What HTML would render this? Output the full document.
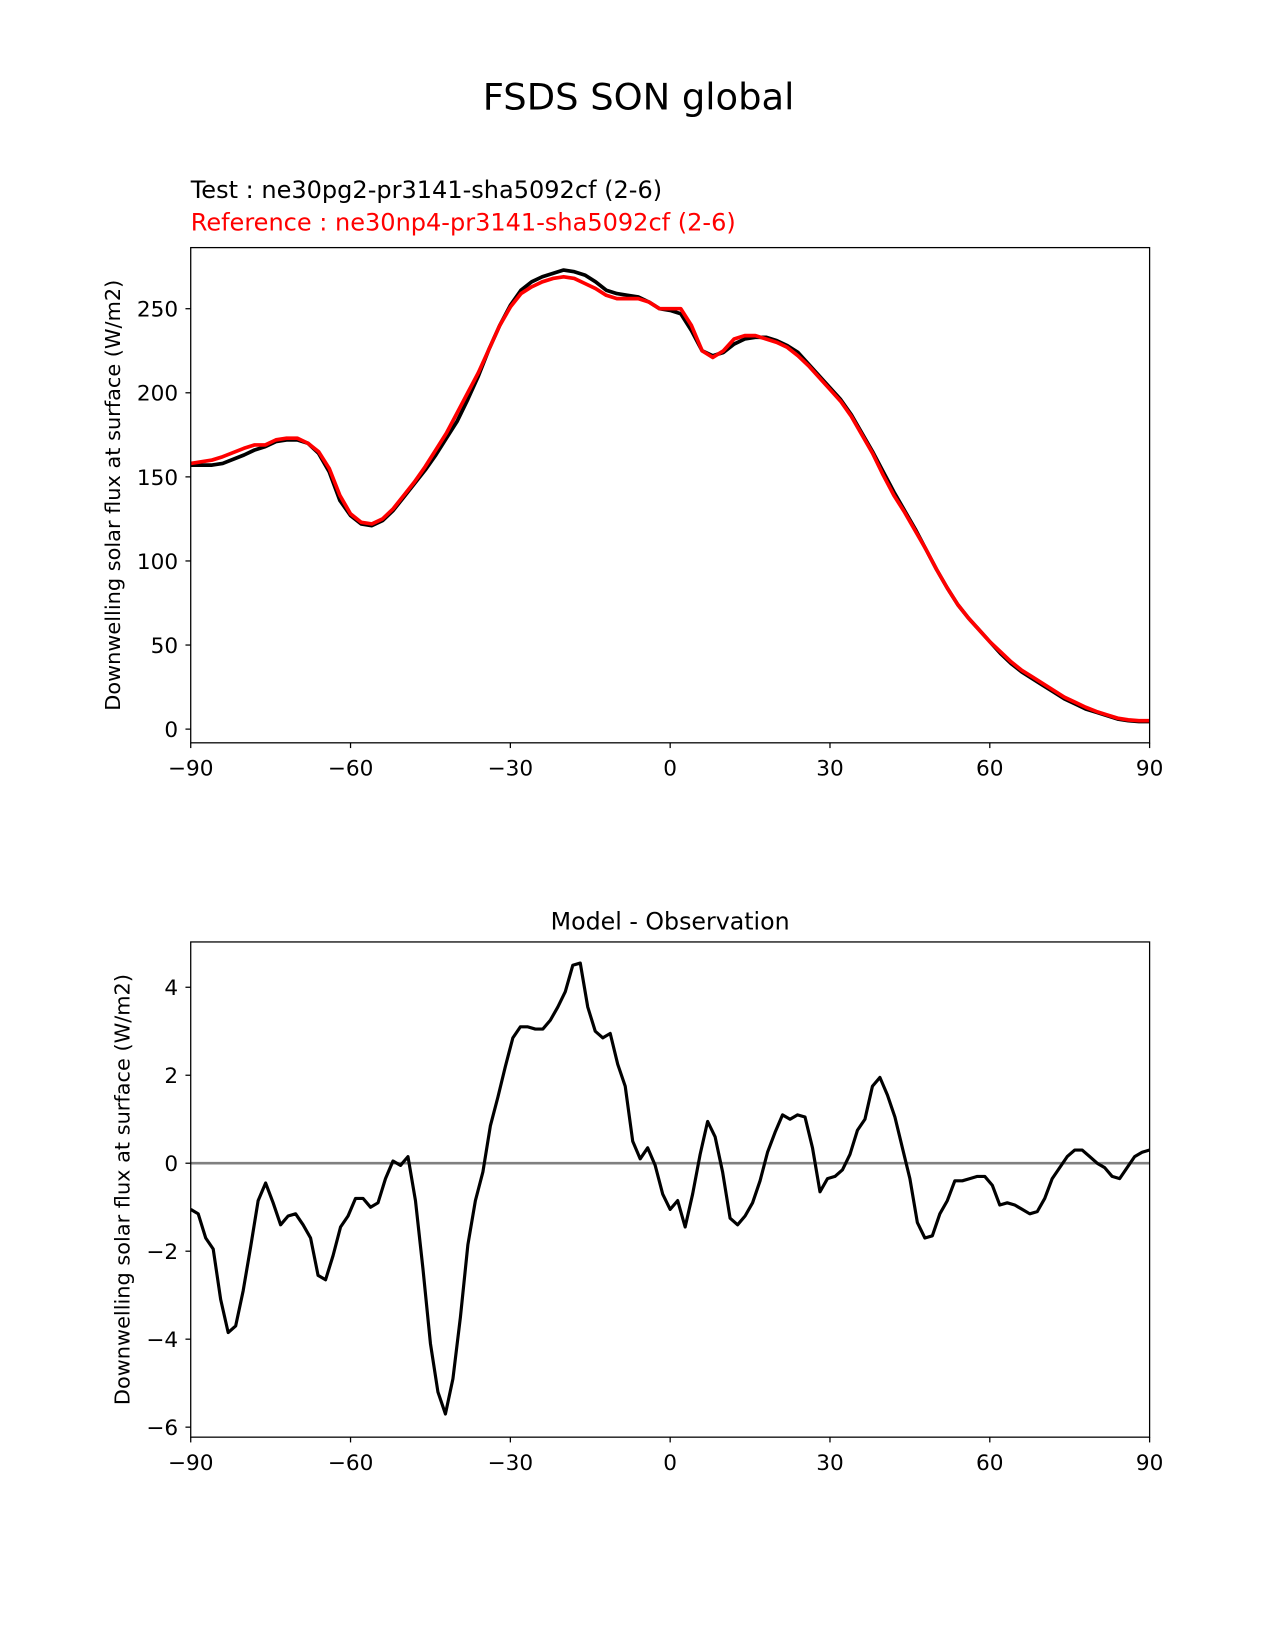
<!DOCTYPE html>
<html><head><meta charset="utf-8"><style>
body{margin:0;background:#fff;}
svg{display:block;}
svg text{font-family:"DejaVu Sans","Liberation Sans",sans-serif;}
</style></head><body>
<svg id="fig" width="1275" height="1650" viewBox="0 0 1210 1566" preserveAspectRatio="none" xmlns="http://www.w3.org/2000/svg">
<rect width="1210" height="1566" fill="#fff"/>
<text x="606" y="104" font-size="35" text-anchor="middle">FSDS SON global</text>
<text x="181" y="188" font-size="22.8">Test : ne30pg2-pr3141-sha5092cf (2-6)</text>
<text x="181" y="219" font-size="22.8" fill="#f00">Reference : ne30np4-pr3141-sha5092cf (2-6)</text>
<text x="636" y="882" font-size="22.5" text-anchor="middle">Model - Observation</text>
<g id="top"></g>
<g id="bot"></g>
</svg>
<script>
const topLats = [-90,-86,-84,-80,-78,-76,-74,-72,-70,-68,-66,-64,-62,-60,-58,-56,-54,-52,-50,-48,-46,-44,-42,-40,-38,-36,-34,-32,-30,-28,-26,-24,-22,-20,-18,-16,-14,-12,-10,-8,-6,-4,-2,0,2,4,6,8,10,12,14,16,18,20,22,24,26,28,30,32,34,36,38,40,42,44,46,48,50,52,54,56,58,60,62,64,66,68,70,72,74,76,78,80,82,84,86,88,90];
const testVals = [157,157,158,163,166,168,171,172,172,170,164,153,136,127,122,121,124,130,138,146,154,163,173,183,196,210,226,240,252,261,266,269,271,273,272,270,266,261,259,258,257,254,250,249,247,237,225,222,224,229,232,233,233,231,228,224,217,210,203,196,187,176,165,153,141,130,119,107,95,84,74,66,59,52,45,39,34,30,26,22,18,15,12,10,8,6,5,4.5,4.5];
const refVals = [158,160,162,167,169,169,172,173,173,170,165,155,139,128,123,122,125,131,139,147,156,166,176,188,200,212,226,240,251,259,263,266,268,269,268,265,262,258,256,256,256,254,250,250,250,240,225,221,225,232,234,234,232,230,227,222,216,209,202,195,186,175,164,151,139,129,118,107,95,84,74,66,59,52,46,40,35,31,27,23,19,16,13,10.5,8.5,6.5,5.5,5,5];
const topYTicks = [0,50,100,150,200,250];
const xTicks = [-90,-60,-30,0,30,60,90];
const diffVals = [-1.05,-1.15,-1.7,-1.95,-3.1,-3.85,-3.7,-2.9,-1.9,-0.85,-0.45,-0.9,-1.4,-1.2,-1.15,-1.4,-1.7,-2.55,-2.65,-2.1,-1.45,-1.2,-0.8,-0.8,-1.0,-0.9,-0.35,0.05,-0.05,0.15,-0.85,-2.4,-4.1,-5.2,-5.7,-4.9,-3.5,-1.85,-0.85,-0.2,0.85,1.5,2.2,2.85,3.1,3.1,3.05,3.05,3.25,3.55,3.9,4.5,4.55,3.55,3.0,2.85,2.95,2.25,1.75,0.5,0.1,0.35,-0.05,-0.7,-1.05,-0.85,-1.45,-0.7,0.2,0.95,0.6,-0.2,-1.25,-1.4,-1.2,-0.9,-0.4,0.25,0.7,1.1,1.0,1.1,1.05,0.35,-0.65,-0.35,-0.3,-0.15,0.2,0.75,1.0,1.75,1.95,1.55,1.05,0.35,-0.35,-1.35,-1.7,-1.65,-1.15,-0.85,-0.4,-0.4,-0.35,-0.3,-0.3,-0.5,-0.95,-0.9,-0.95,-1.05,-1.15,-1.1,-0.8,-0.35,-0.1,0.15,0.3,0.3,0.15,0.0,-0.1,-0.3,-0.35,-0.1,0.15,0.25,0.3];
const botYTicks = [-6,-4,-2,0,2,4];

const NS='http://www.w3.org/2000/svg';
function mk(parent,tag,attrs){const e=document.createElementNS(NS,tag);for(const k in attrs)e.setAttribute(k,attrs[k]);parent.appendChild(e);return e;}
const X0=181,X1=1091;
const xs=d=>X0+(d+90)*(X1-X0)/180;

function axes(g,top,bot,ys,yTicks,prefix){
  for(const t of xTicks){
    const l=mk(g,'line',{x1:xs(t),x2:xs(t),y1:bot,y2:bot+5,stroke:'#000','stroke-width':1.2});
    
    
    const tx=mk(g,'text',{x:xs(t),y:bot+31,'font-size':20.5,'text-anchor':'middle'});
    tx.textContent=t<0?'\u2212'+(-t):''+t;
    
    
  }
  for(const t of yTicks){
    const l=mk(g,'line',{x1:X0-5,x2:X0,y1:ys(t),y2:ys(t),stroke:'#000','stroke-width':1.2});
    
    
    const tx=mk(g,'text',{x:X0-12,y:ys(t)+7.5,'font-size':20.5,'text-anchor':'end'});
    tx.textContent=t<0?'\u2212'+(-t):''+t;
    
    
  }
  const f=mk(g,'rect',{x:X0,y:top,width:X1-X0,height:bot-top,fill:'none',stroke:'#000','stroke-width':1.2});
  
  
  const cy=(top+bot)/2;
  const yl=mk(g,'text',{x:0,y:0,'font-size':19.8,'text-anchor':'middle',transform:`translate(${prefix==='top'?114:123},${cy}) rotate(-90)`});
  yl.textContent='Downwelling solar flux at surface (W/m2)';
  
  
}
function line(g,xsArr,vals,ys,color,w,name){
  const p=mk(g,'polyline',{points:vals.map((v,i)=>xs(xsArr[i])+','+ys(v)).join(' '),fill:'none',stroke:color,'stroke-width':w,'stroke-linejoin':'round'});
  
  
}
const tg=document.getElementById('top');
const ysT=v=>692-v*399/250;
const tclip=mk(tg,'clipPath',{id:'tc'});mk(tclip,'rect',{x:X0,y:235,width:X1-X0,height:470});
const tl=mk(tg,'g',{'clip-path':'url(#tc)'});
line(tl,topLats,testVals,ysT,'#000',3.5,'test-line');
line(tl,topLats,refVals,ysT,'#f00',3.5,'reference-line');
axes(tg,235,705,ysT,topYTicks,'top');
const bg=document.getElementById('bot');
const ysB=v=>1104-v*41.75;
const bclip=mk(bg,'clipPath',{id:'bc'});mk(bclip,'rect',{x:X0,y:894,width:X1-X0,height:470});
const bl=mk(bg,'g',{'clip-path':'url(#bc)'});
const zl=mk(bl,'line',{x1:X0,x2:X1,y1:ysB(0),y2:ysB(0),stroke:'#808080','stroke-width':2.5});


const diffLats=diffVals.map((v,i)=>-90+i*180/(diffVals.length-1));
line(bl,diffLats,diffVals,ysB,'#000',3,'difference-line');
axes(bg,894,1364,ysB,botYTicks,'bottom');
</script>
</body></html>
